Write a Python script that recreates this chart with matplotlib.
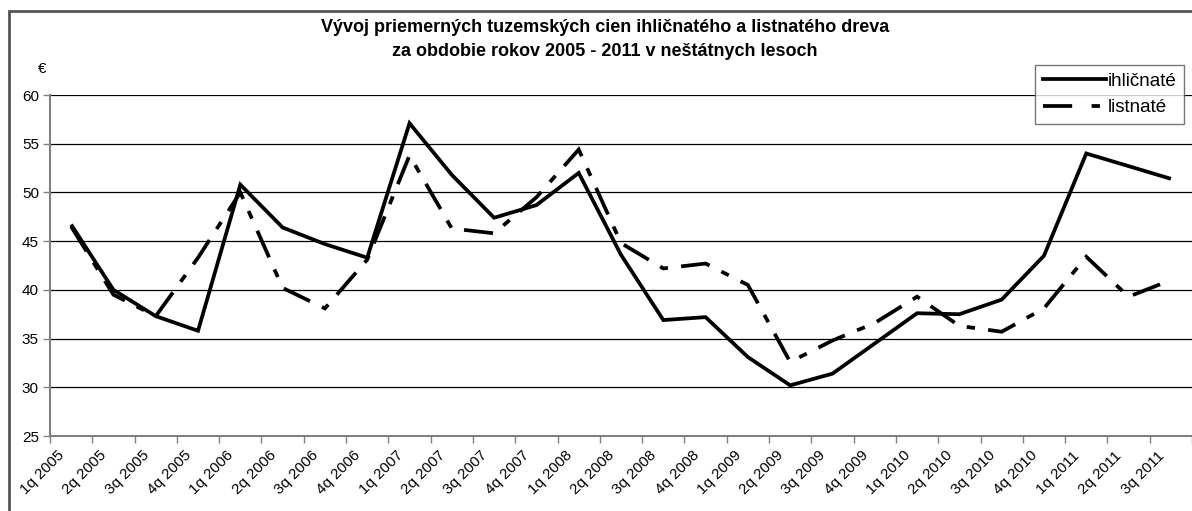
import matplotlib
matplotlib.use("Agg")
import matplotlib.pyplot as plt
import matplotlib.transforms as mtransforms
from matplotlib.patches import Rectangle
from matplotlib.lines import Line2D

plt.rcParams['font.family'] = ['Liberation Sans', 'DejaVu Sans']
plt.rcParams['lines.scale_dashes'] = False

categories = ["1q 2005", "2q 2005", "3q 2005", "4q 2005",
              "1q 2006", "2q 2006", "3q 2006", "4q 2006",
              "1q 2007", "2q 2007", "3q 2007", "4q 2007",
              "1q 2008", "2q 2008", "3q 2008", "4q 2008",
              "1q 2009", "2q 2009", "3q 2009", "4q 2009",
              "1q 2010", "2q 2010", "3q 2010", "4q 2010",
              "1q 2011", "2q 2011", "3q 2011"]

ihlicnate = [46.7, 40.0, 37.3, 35.8, 50.8, 46.4, 44.7, 43.3,
             57.1, 51.8, 47.4, 48.7, 52.0, 43.6, 36.9, 37.2,
             33.1, 30.2, 31.4, 34.5, 37.6, 37.5, 39.0, 43.5,
             54.0, 52.7, 51.4]

listnate = [46.5, 39.5, 37.3, 43.3, 50.0, 40.2, 38.1, 43.1,
            53.8, 46.3, 45.8, 49.5, 54.4, 44.8, 42.2, 42.7,
            40.5, 32.6, 34.8, 36.6, 39.3, 36.3, 35.7, 38.1,
            43.4, 39.3, 41.0]

yticks = [25, 30, 35, 40, 45, 50, 55, 60]

W, H = 1192, 511
fig = plt.figure(figsize=(W / 100, H / 100), dpi=100)
ax = fig.add_axes([50 / W, 1 - 436 / H, (W - 50) / W, (436 - 95) / H])

n = len(categories)
xs = [i + 0.5 for i in range(n)]

dash_pattern = (21, 9.5, 6, 9.5)

ax.plot(xs, ihlicnate, color='black', lw=2.7, solid_joinstyle='miter',
        solid_capstyle='butt', label='ihličnaté', zorder=4)
ax.plot(xs, listnate, color='black', lw=2.7, linestyle=(0, dash_pattern),
        dash_capstyle='butt', dash_joinstyle='miter', label='listnaté', zorder=3)

ax.set_xlim(0, n)
ax.set_ylim(25, 60)
ax.set_yticks(yticks)
ax.set_yticklabels([str(v) for v in yticks], fontsize=11)
for v in yticks[1:]:
    ax.axhline(v, color='black', lw=0.9, zorder=1)

ax.set_xticks(range(n + 1))
ax.set_xticklabels([])
ax.set_xticks(xs, minor=True)
ax.set_xticklabels(categories, minor=True, rotation=45, ha='right',
                   va='top', fontsize=11)
ax.tick_params(axis='x', which='minor', length=0, pad=9)
ax.tick_params(axis='x', which='major', length=5, width=1, color='#808080',
               direction='out')
ax.tick_params(axis='y', length=5, width=1, color='#808080', direction='out',
               pad=3)
offset = mtransforms.ScaledTranslation(-4 / 100, 0, fig.dpi_scale_trans)
for lab in ax.xaxis.get_minorticklabels():
    lab.set_transform(lab.get_transform() + offset)

for s in ['top', 'right']:
    ax.spines[s].set_visible(False)
for s in ['left', 'bottom']:
    ax.spines[s].set_color('#808080')
    ax.spines[s].set_linewidth(1.5)

# outer chart border
fig.patches.append(Rectangle((9 / W, -0.1), 1.2, 1 - 11 / H + 0.1,
                             transform=fig.transFigure, fill=False,
                             edgecolor='#555555', lw=2.0))

fig.text(605 / W, 1 - 27 / H,
         "Vývoj priemerných tuzemských cien ihličnatého a listnatého dreva",
         ha='center', va='center', fontsize=13, fontweight='bold')
fig.text(605 / W, 1 - 52 / H,
         "za obdobie rokov 2005 - 2011 v neštátnych lesoch",
         ha='center', va='center', fontsize=13, fontweight='bold')
fig.text(42 / W, 1 - 69 / H, "€", ha='center', va='center', fontsize=11)

handles = [Line2D([], [], color='black', lw=2.7),
           Line2D([], [], color='black', lw=2.7, linestyle=(0, (21, 14, 6, 14)),
                  dash_capstyle='butt')]
leg = fig.legend(handles, ['ihličnaté', 'listnaté'], loc='upper left',
                 bbox_to_anchor=(1035 / W, 1 - 65 / H), fontsize=13.5,
                 frameon=True, fancybox=False, shadow=False,
                 handlelength=3.4, handletextpad=0.1, borderpad=0.4,
                 labelspacing=0.5, borderaxespad=0)
leg.get_frame().set_edgecolor('#555555')
leg.get_frame().set_linewidth(1.0)

fig.savefig('out.png', dpi=100)
